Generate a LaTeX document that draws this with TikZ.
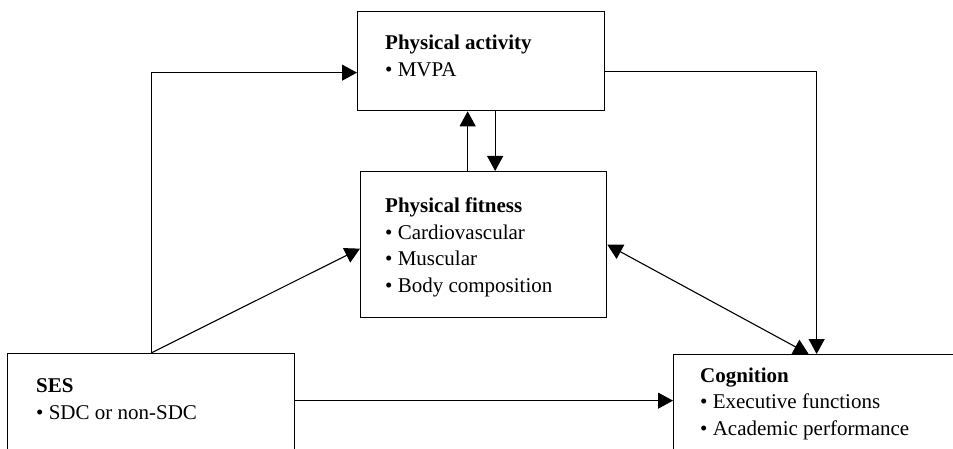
\documentclass[tikz,border=0pt]{standalone}
\usepackage{fontspec}
\setmainfont{Liberation Serif}
\usepackage{tikz}
\usetikzlibrary{positioning, arrows.meta}

\begin{document}
\begin{tikzpicture}[x=1pt, y=-1pt, >={Triangle[length=15pt, width=16pt]}]
    \tikzstyle{box}=[draw, line width=1.3pt, inner sep=0pt, anchor=north west];
    \tikzstyle{txt}=[inner sep=0pt, align=left, font=\fontsize{21}{26.6}\selectfont];
    \tikzstyle{arr}=[line width=1.1pt, ->];
    \clip (0,0) rectangle (953,449);
    % boxes
    \node[box, minimum width=247pt, minimum height=99pt] (pa) at (357,11) {};
    \node[box, minimum width=246pt, minimum height=146pt] (pf) at (360,171) {};
    \node[box, minimum width=287pt, minimum height=110pt] (ses) at (7,353) {};
    \node[box, minimum width=286pt, minimum height=110pt] (cog) at (673,354) {};
    % box texts
    \node[txt, below right=24pt and 28pt of pa.north west] (pa-t)
        {\textbf{Physical activity}\\\textbullet{} MVPA};
    \node[txt, below right=26.5pt and 25pt of pf.north west] (pf-t)
        {\textbf{Physical fitness}\\\textbullet{} Cardiovascular\\\textbullet{} Muscular\\\textbullet{} Body composition};
    \node[txt, below right=25.5pt and 29pt of ses.north west] (ses-t)
        {\textbf{SES}\\\textbullet{} SDC or non-SDC};
    \node[txt, below right=13.5pt and 27pt of cog.north west] (cog-t)
        {\textbf{Cognition}\\\textbullet{} Executive functions\\\textbullet{} Academic performance};
    % connectors
    \coordinate (ses-out) at ([yshift=8pt]ses.east);
    \draw[arr] (ses.north) |- ([yshift=-11.5pt]pa.west);
    \draw[arr] (ses.north) -- ([yshift=-4pt]pf.west);
    \draw[arr] ([xshift=-16pt]pf.north) -- ([xshift=-16pt]pf.north |- pa.south);
    \draw[arr] ([xshift=14pt]pa.south) -- ([xshift=14pt]pa.south |- pf.north);
    \draw[arr] ([yshift=-10pt]pa.east) -| (cog.north);
    \draw[arr, <->] (pf.east) -- ([xshift=-8pt]cog.north);
    \draw[arr] (ses-out) -- (ses-out -| cog.west);
\end{tikzpicture}
\end{document}
